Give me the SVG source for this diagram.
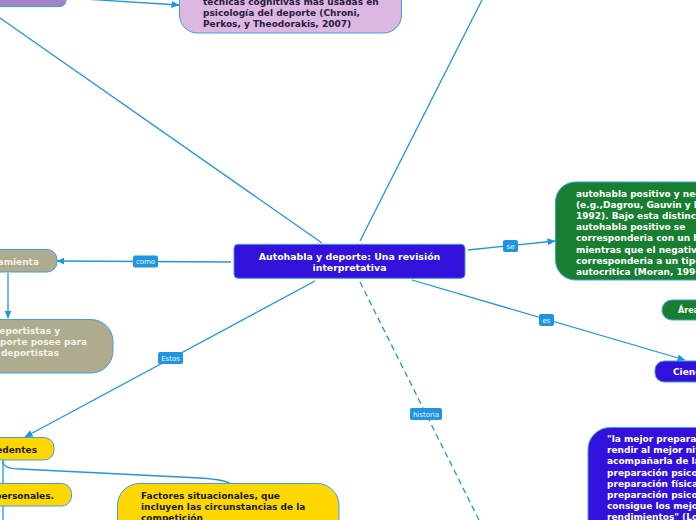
<svg xmlns="http://www.w3.org/2000/svg" width="696" height="520" viewBox="0 0 696 520">
<style>
.ln{fill:none;stroke:#1f95e0;stroke-width:1.3}
.nd{stroke:#3a9fe3;stroke-width:1}
.t{font-family:"DejaVu Sans",Verdana,sans-serif;font-weight:bold;font-size:9px}
.w{fill:#ffffff}
.dk{fill:#1a1a1a}
.lb{fill:#1f95e0}
.lt{font-family:"DejaVu Sans",Verdana,sans-serif;font-size:7px;fill:#eaf5ff;text-anchor:middle}
</style>
<defs>
<marker id="ah" markerWidth="8" markerHeight="8" refX="7.5" refY="4" orient="auto" markerUnits="userSpaceOnUse">
<path d="M0,0.5 L8,4 L0,7.5 z" fill="#1f95e0"/>
</marker>
</defs>
<rect width="696" height="520" fill="#ffffff"/>

<g id="connectors">
<path class="ln" d="M0,18 L322,243"/>
<path class="ln" d="M60,-2.5 L179,5" marker-end="url(#ah)"/>
<path class="ln" d="M360,241 L482,0"/>
<path class="ln" d="M468,250 L555,241" marker-end="url(#ah)"/>
<path class="ln" d="M412,280 L685,360" marker-end="url(#ah)"/>
<path class="ln" d="M360,282 L480,522" stroke-dasharray="6,4"/>
<path class="ln" d="M231,262 L57,261" marker-end="url(#ah)"/>
<path class="ln" d="M8,273 L8,318" marker-end="url(#ah)"/>
<path class="ln" d="M315,281 L25,437" marker-end="url(#ah)"/>
<path class="ln" d="M3,460 L3,483"/>
<path class="ln" d="M3,506 L3,521"/>
<path class="ln" d="M3,461 Q3,469 20,469 L200,478 Q228,480 230,484"/>
<g id="lbl-se"><rect class="lb" x="503" y="240" width="15" height="12" rx="2"/><text class="lt" x="510.5" y="248.5">se</text></g>
<g id="lbl-es"><rect class="lb" x="539" y="314" width="15" height="12" rx="2"/><text class="lt" x="546.5" y="322.5">es</text></g>
<g id="lbl-como"><rect class="lb" x="133" y="255.5" width="25" height="12" rx="2"/><text class="lt" x="145.5" y="264">como</text></g>
<g id="lbl-estos"><rect class="lb" x="158" y="352" width="25" height="12" rx="2"/><text class="lt" x="170.5" y="360.5">Estos</text></g>
<g id="lbl-historia"><rect class="lb" x="410" y="408" width="32" height="12" rx="2"/><text class="lt" x="426" y="416.5">historia</text></g>
</g>

<g id="node-topleft">
<rect class="nd" x="-40" y="-30" width="106" height="36.5" rx="6" fill="#a484c4"/>
</g>

<g id="node-pink">
<rect class="nd" x="179.5" y="-40" width="222" height="73" rx="18" fill="#dbb7e2"/>
<text class="t" fill="#2a1a3e" x="203"><tspan x="203" y="4.5">técnicas cognitivas más usadas en</tspan><tspan x="203" y="15.5">psicología del deporte (Chroni,</tspan><tspan x="203" y="26.5">Perkos, y Theodorakis, 2007)</tspan></text>
</g>

<g id="node-center">
<rect class="nd" x="234" y="244.3" width="231" height="34" rx="4" fill="#3311dd"/>
<text class="t w" style="font-size:9.4px" text-anchor="middle"><tspan x="349.5" y="260">Autohabla y deporte: Una revisión</tspan><tspan x="349.5" y="271">interpretativa</tspan></text>
</g>

<g id="node-green">
<rect class="nd" x="555.5" y="182" width="180" height="98" rx="20" fill="#197f30"/>
<text class="t w"><tspan x="576" y="196.5">autohabla positivo y negativo</tspan><tspan x="576" y="207.7">(e.g.,Dagrou, Gauvin y Halliwell,</tspan><tspan x="576" y="218.9">1992). Bajo esta distinción, el</tspan><tspan x="576" y="230.1">autohabla positivo se</tspan><tspan x="576" y="241.3">corresponderia con un hábito</tspan><tspan x="576" y="252.5">mientras que el negativo</tspan><tspan x="576" y="263.7">corresponderia a un tipo de</tspan><tspan x="576" y="274.9">autocritica (Moran, 1996)</tspan></text>
</g>

<g id="node-area">
<rect class="nd" x="662" y="300" width="60" height="20" rx="10" fill="#197f30"/>
<text class="t w" style="font-size:8px" x="678" y="313">Área</text>
</g>

<g id="node-ciencia">
<rect class="nd" x="655" y="361" width="70" height="21" rx="9" fill="#3311dd"/>
<text class="t w" x="673" y="375">Ciencia</text>
</g>

<g id="node-quote">
<rect class="nd" x="588" y="427.5" width="160" height="120" rx="22" fill="#3311dd"/>
<text class="t w"><tspan x="607" y="442">"la mejor preparación para</tspan><tspan x="607" y="453">rendir al mejor nivel es</tspan><tspan x="607" y="464">acompañarla de la</tspan><tspan x="607" y="475.5">preparación psicológica</tspan><tspan x="607" y="486.5">preparación física y</tspan><tspan x="607" y="497.5">preparación psicológica</tspan><tspan x="607" y="508.5">consigue los mejores</tspan><tspan x="607" y="519.5">rendimientos" (Lo</tspan></text>
</g>

<g id="node-herramienta">
<rect class="nd" x="-40" y="249.5" width="97" height="22.5" rx="10" fill="#aeab8e"/>
<text class="t" fill="#f3f3ea" text-anchor="end" x="39" y="265">herramienta</text>
</g>

<g id="node-deportistas">
<rect class="nd" x="-60" y="319.5" width="173" height="53.5" rx="22" fill="#aeab8e"/>
<text class="t" fill="#f3f3ea" text-anchor="end"><tspan x="60" y="334">deportistas y</tspan><tspan x="87" y="345">deporte posee para</tspan><tspan x="59" y="356">deportistas</tspan></text>
</g>

<g id="node-antecedentes">
<rect class="nd" x="-40" y="437.5" width="94" height="22.5" rx="10" fill="#ffd700"/>
<text class="t dk" text-anchor="end" x="37" y="453">Antecedentes</text>
</g>

<g id="node-personales">
<rect class="nd" x="-40" y="483.5" width="111.5" height="22.5" rx="10" fill="#ffd700"/>
<text class="t dk" text-anchor="end" x="54" y="498.5">personales.</text>
</g>

<g id="node-factores">
<rect class="nd" x="117.5" y="483.5" width="221.5" height="70" rx="22" fill="#ffd700"/>
<text class="t dk"><tspan x="141" y="498.5">Factores situacionales, que</tspan><tspan x="141" y="510">incluyen las circunstancias de la</tspan><tspan x="141" y="521">competición</tspan></text>
</g>
</svg>
